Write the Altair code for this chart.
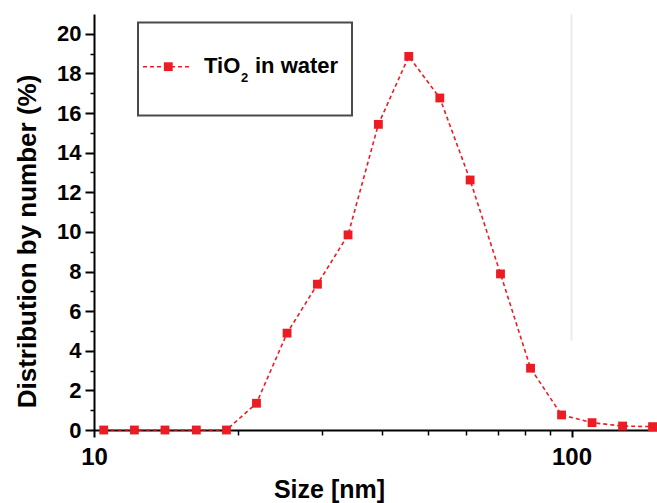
import altair as alt
import pandas as pd

# Data (log-x size in nm, distribution by number in %)
sizes = [10.48, 12.15, 14.08, 16.38, 18.94, 21.89, 25.37, 29.37, 34.04, 39.4,
         45.62, 52.99, 61.32, 71.0, 82.07, 95.3, 110.4, 127.9, 147.8]
values = [0.0, 0.0, 0.0, 0.0, 0.0, 1.35, 4.89, 7.36, 9.85, 15.43,
          18.86, 16.76, 12.62, 7.88, 3.12, 0.76, 0.37, 0.2, 0.17]
series_name_main = "TiO"
series_name_sub = "2"
series_name_rest = "in water"

x_major = [10, 100]
x_minor = [20, 30, 40, 50, 60, 70, 80, 90]
y_major = [0, 2, 4, 6, 8, 10, 12, 14, 16, 18, 20]
y_minor = [1, 3, 5, 7, 9, 11, 13, 15, 17, 19]

x_title = "Size [nm]"
y_title = "Distribution by number (%)"

RED = "#ec1c24"
FONT = "Liberation Sans"

df = pd.DataFrame({"size": sizes, "value": values})

xscale = alt.Scale(type="log", domain=[10, 151], nice=False)
yscale = alt.Scale(domain=[0, 21], nice=False, zero=False)

x_axis_major = alt.Axis(
    values=x_major, labelExpr="format(datum.value, 'd')", labelFlush=False,
    tickSize=7, tickWidth=2, tickColor="black", domainColor="black", domainWidth=2,
    labelFont=FONT, labelFontWeight="bold", labelFontSize=24, labelColor="black",
    labelPadding=8, grid=False,
    title=x_title, titleFont=FONT, titleFontWeight="bold", titleFontSize=25,
    titleColor="black", titleX=235, titleY=67, titleBaseline="alphabetic",
    titleAlign="center", titleAnchor="middle", orient="bottom",
)
y_axis_major = alt.Axis(
    values=y_major, labelFlush=False,
    tickSize=9, tickWidth=2, tickColor="black", domainColor="black", domainWidth=2,
    labelFont=FONT, labelFontWeight="bold", labelFontSize=22, labelColor="black",
    labelPadding=4, grid=False,
    title=y_title, titleFont=FONT, titleFontWeight="bold", titleFontSize=26,
    titleColor="black", titleX=-59, titleY=227, titleBaseline="alphabetic",
    titleAlign="center", titleAngle=270, orient="left",
)

x_axis_minor = alt.Axis(values=x_minor, labels=False, tickSize=5, tickWidth=1.5,
                        tickColor="black", domain=False, grid=False, title=None,
                        orient="bottom")
y_axis_minor = alt.Axis(values=y_minor, labels=False, tickSize=4, tickWidth=1.5,
                        tickColor="black", domain=False, grid=False, title=None,
                        orient="left")

# faint vertical line seen at x=100 in the reference
ref_df = pd.DataFrame({"size": [100], "top": [21], "bottom": [4.5]})
ref_rule = alt.Chart(ref_df).mark_rule(color="#ececec", strokeWidth=2).encode(
    x=alt.X("size:Q", scale=xscale, axis=x_axis_major),
    y=alt.Y("top:Q", scale=yscale, axis=y_axis_major),
    y2="bottom:Q",
)

line = alt.Chart(df).mark_line(color=RED, strokeWidth=1.6, strokeDash=[4, 3]).encode(
    x=alt.X("size:Q", scale=xscale, axis=x_axis_major),
    y=alt.Y("value:Q", scale=yscale, axis=y_axis_major),
)
points = alt.Chart(df).mark_point(shape="square", filled=True, size=78, color=RED,
                                  opacity=1).encode(
    x=alt.X("size:Q", scale=xscale, axis=x_axis_major),
    y=alt.Y("value:Q", scale=yscale, axis=y_axis_major),
)

main = alt.layer(ref_rule, line, points)

minor = alt.Chart(df).mark_point(opacity=0).encode(
    x=alt.X("size:Q", scale=xscale, axis=x_axis_minor),
    y=alt.Y("value:Q", scale=yscale, axis=y_axis_minor),
)

# manual legend box
one = pd.DataFrame({"a": [0]})
box = alt.Chart(one).mark_rect(fill="white", stroke="#4a4a4a", strokeWidth=2).encode(
    x=alt.value(44), x2=alt.value(258), y=alt.value(8.5), y2=alt.value(101.5))
leg_line = alt.Chart(one).mark_rule(color=RED, strokeWidth=1.6, strokeDash=[4, 3]).encode(
    x=alt.value(49), x2=alt.value(96), y=alt.value(52.7))
leg_pt = alt.Chart(one).mark_point(shape="square", filled=True, size=78, color=RED,
                                   opacity=1).encode(
    x=alt.value(74.3), y=alt.value(52.7))
leg_t1 = alt.Chart(one).mark_text(text=series_name_main, font=FONT, fontWeight="bold",
                                  fontSize=22, align="left", baseline="alphabetic",
                                  color="black").encode(x=alt.value(110), y=alt.value(59.3))
leg_t2 = alt.Chart(one).mark_text(text=series_name_sub, font=FONT, fontWeight="bold",
                                  fontSize=13, align="left", baseline="alphabetic",
                                  color="black").encode(x=alt.value(147), y=alt.value(68))
leg_t3 = alt.Chart(one).mark_text(text=series_name_rest, font=FONT, fontWeight="bold",
                                  fontSize=22, align="left", baseline="alphabetic",
                                  color="black").encode(x=alt.value(161), y=alt.value(59.3))

chart = alt.layer(
    minor, main, box, leg_line, leg_pt, leg_t1, leg_t2, leg_t3
).resolve_axis(x="independent", y="independent").properties(
    width=563, height=416,
    autosize=alt.AutoSizeParams(type="none"),
    padding={"left": 94, "top": 14, "right": 0, "bottom": 73},
    background="white",
).configure_view(stroke=None)

chart.save("out.html", embed_options={"renderer": "svg", "actions": False})
